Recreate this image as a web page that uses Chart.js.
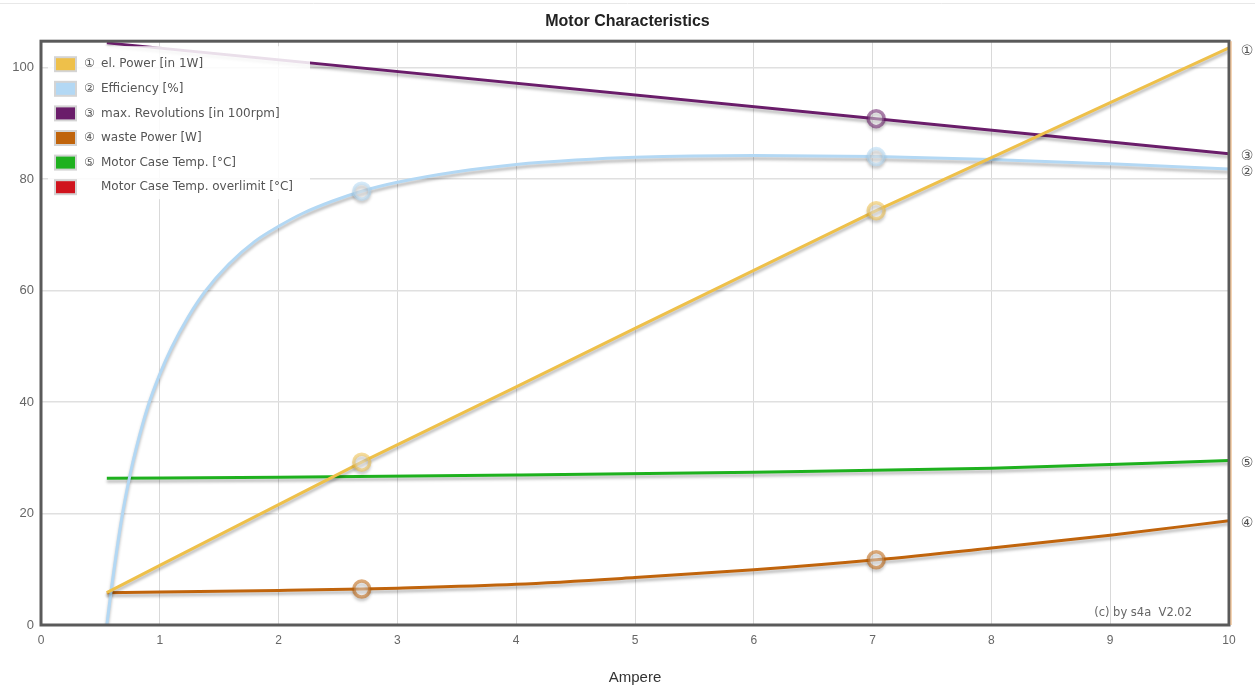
<!DOCTYPE html>
<html lang="en">
<head>
<meta charset="utf-8" />
<title>Motor Characteristics</title>
<script src="https://cdn.jsdelivr.net/npm/chart.js@4/dist/chart.umd.min.js"></script>
<style>
  html, body { margin: 0; padding: 0; background: #fff; }
  #wrap { position: relative; width: 1255px; height: 687px; }
</style>
</head>
<body>
<div id="wrap"><canvas id="motor"></canvas></div>

<script>
// values (x = current in A)
const powerAmps = [0.554, 1, 2, 2.7, 4, 5, 6, 7.03, 8, 9, 10];
const powerWatts = [5.8, 10.7, 21.6, 29.2, 42.7, 53.2, 63.6, 74.3, 83.8, 93.7, 103.5];

const effAmps = [0.554, 0.595, 0.68, 0.75, 0.805, 0.9, 1.0, 1.1, 1.24, 1.38, 1.58, 1.8, 2.0, 2.2, 2.45, 2.7, 3.0, 3.5, 4.0, 4.5, 5.0, 6.0, 7.03, 8.0, 9.0, 10];
const effPercent = [0, 6.9, 19.2, 27.0, 32.0, 39.2, 45.0, 49.8, 55.3, 59.8, 64.7, 68.8, 71.5, 73.8, 76.0, 77.8, 79.4, 81.3, 82.6, 83.4, 83.9, 84.2, 84.0, 83.5, 82.7, 81.8];

const revAmps = [0.554, 7.03, 10];
const revHundredRpm = [104.4, 90.8, 84.5];

const wasteAmps = [0.554, 1, 2, 2.7, 3, 4, 5, 6, 7.03, 8, 9, 10];
const wasteWatts = [5.8, 5.9, 6.2, 6.45, 6.6, 7.3, 8.5, 9.9, 11.7, 13.8, 16.1, 18.7];

const tempAmps = [0.554, 2, 4, 6, 8, 10];
const tempCelsius = [26.3, 26.5, 26.9, 27.4, 28.1, 29.5];

const markAmps = [2.7, 7.03];
const yTicks = [0, 20, 40, 60, 80, 100];

const FONT = "'Liberation Sans', Arial, sans-serif";
const WIDE = "'DejaVu Sans', Verdana, sans-serif";

function pts(xs, ys) {
  return xs.map((x, i) => ({x: x, y: ys[i]}));
}

function series(num, label, xs, ys, color, marks, smooth) {
  return {
    num: num,
    label: label,
    data: pts(xs, ys),
    borderColor: color,
    backgroundColor: color,
    legendColor: color,
    borderWidth: 3,
    cubicInterpolationMode: smooth ? 'monotone' : 'default',
    tension: 0,
    pointRadius: (ctx) => (ctx.raw && marks.includes(ctx.raw.x)) ? 8 : 0,
    pointHoverRadius: 0,
    pointBorderWidth: 3.5,
    pointBorderColor: color + '8c',
    pointBackgroundColor: 'rgba(255,255,255,0.45)'
  };
}

var datasets = [
  series('\u2460', 'el. Power [in 1W]', powerAmps, powerWatts, '#eec04a', markAmps, false),
  series('\u2461', 'Efficiency [%]', effAmps, effPercent, '#b3d8f4', markAmps, true),
  series('\u2462', 'max. Revolutions [in 100rpm]', revAmps, revHundredRpm, '#6a1d6a', [7.03], false),
  series('\u2463', 'waste Power [W]', wasteAmps, wasteWatts, '#c0640c', markAmps, true),
  series('\u2464', 'Motor Case Temp. [\u00b0C]', tempAmps, tempCelsius, '#1eb11e', [], true),
  series('', 'Motor Case Temp. overlimit [\u00b0C]', [], [], '#d0141e', [], false)
];

// soft drop shadow under every curve
const shadowPlugin = {
  id: 'shadow',
  beforeDatasetDraw(chart) {
    const c = chart.ctx;
    c.save();
    c.shadowColor = 'rgba(0,0,0,0.28)';
    c.shadowBlur = 3;
    c.shadowOffsetY = 3;
  },
  afterDatasetDraw(chart) {
    chart.ctx.restore();
  }
};

// legend inside the plot, numbers at line ends, frame, copyright
const decoPlugin = {
  id: 'deco',
  beforeDraw(chart) {
    const c = chart.ctx;
    c.save();
    c.strokeStyle = '#e8e8e8';
    c.lineWidth = 1;
    c.beginPath();
    c.moveTo(0, 3.5);
    c.lineTo(chart.width, 3.5);
    c.stroke();
    c.restore();
  },
  afterDatasetsDraw(chart) {
    const c = chart.ctx;
    const a = chart.chartArea;
    c.save();
    c.fillStyle = 'rgba(255,255,255,0.86)';
    c.fillRect(a.left + 7, a.top + 5, 262, 153);
    c.font = '12px ' + WIDE;
    c.textBaseline = 'middle';
    chart.data.datasets.forEach((ds, i) => {
      const y = a.top + 23 + i * 24.6;
      c.fillStyle = '#d4d4d4';
      c.fillRect(a.left + 13, y - 8, 23, 16);
      c.fillStyle = ds.legendColor;
      c.fillRect(a.left + 15, y - 6, 19, 12);
      c.fillStyle = '#555';
      c.textAlign = 'left';
      if (ds.num) c.fillText(ds.num, a.left + 43, y);
      c.fillText(ds.label, a.left + 60, y);
    });

    // circled numbers beside the right edge
    const ys = chart.scales.y;
    c.font = '14px ' + WIDE;
    c.textAlign = 'center';
    c.fillStyle = '#555';
    chart.data.datasets.forEach((ds) => {
      if (!ds.num || !ds.data.length) return;
      const last = ds.data[ds.data.length - 1];
      c.fillText(ds.num, a.right + 18, ys.getPixelForValue(last.y) + 3);
    });

    c.font = '11.5px ' + WIDE;
    c.textAlign = 'right';
    c.fillStyle = '#666';
    c.fillText('(c) by s4a  V2.02', a.right - 37, a.bottom - 12);
    c.restore();
  },
  afterDraw(chart) {
    const c = chart.ctx;
    const a = chart.chartArea;
    c.save();
    c.strokeStyle = '#5a5a5a';
    c.lineWidth = 3;
    c.strokeRect(a.left, a.top, a.right - a.left, a.bottom - a.top);
    c.strokeStyle = '#e9a96a';
    c.lineWidth = 1;
    c.beginPath();
    c.moveTo(a.right + 2, a.top);
    c.lineTo(a.right + 2, a.bottom);
    c.stroke();
    c.restore();
  }
};

var ctx = document.getElementById('motor').getContext('2d');
new Chart(ctx, {
  type: 'line',
  data: { datasets: datasets },
  plugins: [shadowPlugin, decoPlugin],
  options: {
    animation: false,
    responsive: true,
    maintainAspectRatio: false,
    layout: { padding: 0 },
    plugins: {
      legend: { display: false },
      tooltip: { enabled: false },
      title: {
        display: true,
        text: 'Motor Characteristics',
        color: '#222',
        font: { family: FONT, size: 16, weight: 'bold' },
        padding: { top: 12, bottom: 10 }
      }
    },
    scales: {
      x: {
        type: 'linear',
        min: 0,
        max: 10,
        ticks: { stepSize: 1, color: '#666', padding: 8, font: { family: FONT, size: 12 } },
        grid: { color: '#d9d9d9', drawTicks: false },
        border: { display: false },
        title: {
          display: true,
          text: 'Ampere',
          color: '#333',
          font: { family: FONT, size: 15 },
          padding: { top: 0, bottom: 0 }
        },
        afterFit: (s) => { s.height = 62; }
      },
      y: {
        min: 0,
        max: 104.7,
        afterBuildTicks: (s) => { s.ticks = yTicks.map((v) => ({value: v})); },
        ticks: { color: '#666', padding: 7, font: { family: FONT, size: 13 } },
        grid: { color: '#e0e0e0', lineWidth: 1.5, drawTicks: false },
        border: { display: false },
        afterFit: (s) => { s.width = 41; }
      },
      y2: {
        position: 'right',
        ticks: { display: false },
        grid: { display: false },
        border: { display: false },
        afterFit: (s) => { s.width = 26; }
      }
    }
  }
});
</script>
</body>
</html>
